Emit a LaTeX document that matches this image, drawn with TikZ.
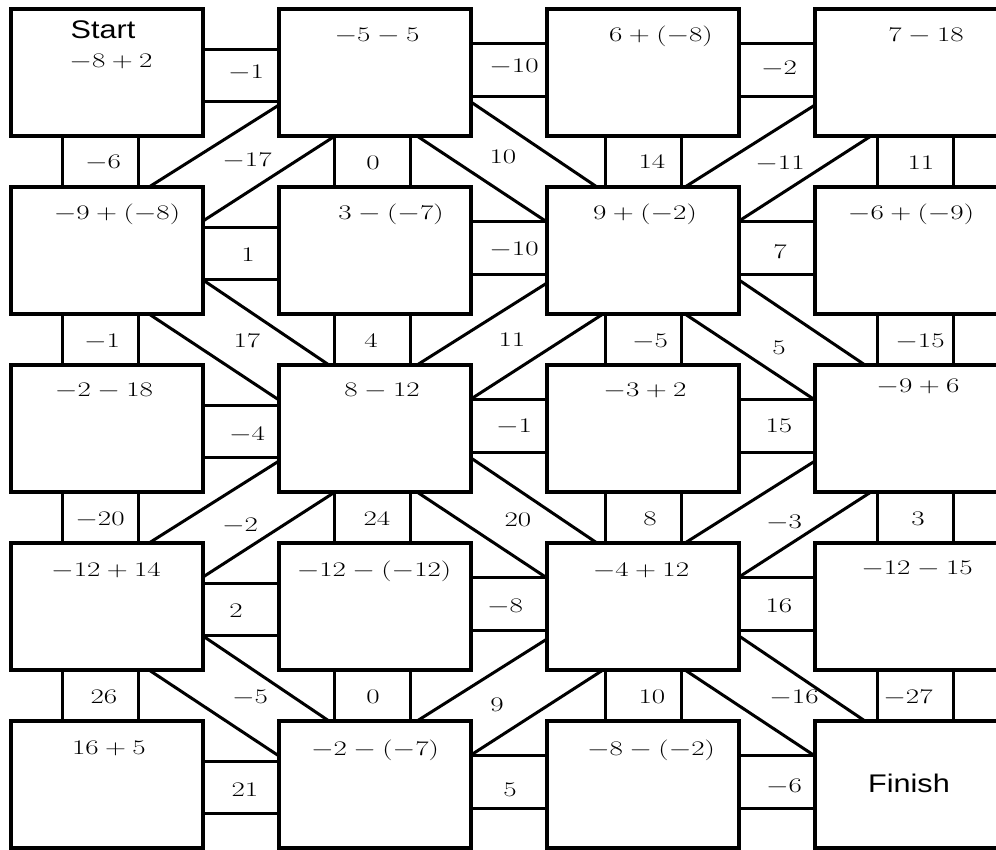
\documentclass[tikz,border=0pt]{standalone}
\usepackage{graphicx}
\usepackage{fontspec}
\newfontfamily\sansf{Liberation Sans}
\usetikzlibrary{calc}
\newcommand\mt[1]{\scalebox{1.4}[1]{$#1$}}
\newcommand\st[1]{\scalebox{1.2}[1]{#1}}
% horizontal connector: left box, right box, two offsets from top
\newcommand\hcon[4]{%
  \draw[conn] ($(#1.north east)+(0,#3)$) -- ($(#2.north west)+(0,#3)$);
  \draw[conn] ($(#1.north east)+(0,#4)$) -- ($(#2.north west)+(0,#4)$);}
% vertical connector: upper box, lower box, two offsets from left
\newcommand\vcon[4]{%
  \draw[conn] ($(#1.south west)+(#3,0)$) -- ($(#2.north west)+(#3,0)$);
  \draw[conn] ($(#1.south west)+(#4,0)$) -- ($(#2.north west)+(#4,0)$);}
% diagonal strip down-left
\newcommand\dlcon[2]{%
  \draw[conn] ($(#1.north west)+(0,96)$) -- ($(#2.north west)+(138,0)$);
  \draw[conn] ($(#1.south west)+(56,0)$) -- ($(#2.north east)+(0,34)$);}
% diagonal strip down-right
\newcommand\drcon[2]{%
  \draw[conn] ($(#1.north east)+(0,93)$) -- ($(#2.north west)+(50,0)$);
  \draw[conn] ($(#1.south west)+(138,0)$) -- ($(#2.north west)+(0,35)$);}
\begin{document}
\begin{tikzpicture}[x=1pt,y=-1pt,
  box/.style={draw=black, line width=3.2pt, minimum width=192pt, minimum height=127pt,
    anchor=north west, inner sep=0pt, outer sep=0pt},
  conn/.style={draw=black, line width=3pt},
  lbl/.style={inner sep=0pt, text height=13pt, text depth=0pt, font=\fontsize{20}{24}\selectfont},
  sflbl/.style={inner sep=0pt, text height=18.5pt, text depth=0pt, font=\sansf\fontsize{25.5}{30}\selectfont}]
\path[use as bounding box, clip] (0,0) rectangle (996,849);
\fill[white] (0,0) rectangle (996,849);

% boxes
\foreach \r in {1,...,5}{
  \foreach \c in {1,...,4}{
    \node[box] (b\r\c) at ({11+268*(\c-1)},{9+178*(\r-1)}) {};
  }
}

% horizontal connectors
\foreach \r in {1,...,5}{
  \hcon{b\r1}{b\r2}{40}{92}
  \hcon{b\r2}{b\r3}{34}{87}
  \hcon{b\r3}{b\r4}{34}{87}
}
% vertical connectors
\foreach \r/\n in {1/2,2/3,3/4,4/5}{
  \vcon{b\r1}{b\n1}{51}{127}
  \vcon{b\r2}{b\n2}{55}{131}
  \vcon{b\r3}{b\n3}{58}{134}
  \vcon{b\r4}{b\n4}{62}{138}
}
% diagonal strips
\dlcon{b12}{b21}
\drcon{b12}{b23}
\dlcon{b14}{b23}
\drcon{b21}{b32}
\dlcon{b23}{b32}
\drcon{b23}{b34}
\dlcon{b32}{b41}
\drcon{b32}{b43}
\dlcon{b34}{b43}
\drcon{b41}{b52}
\dlcon{b43}{b52}
\drcon{b43}{b54}

% box texts
\node[sflbl] (tstart) at (103,29) {\st{Start}};
\node[lbl] (t11) at (111,61) {\mt{-8+2}};
\node[lbl] (t12) at (377,35) {\mt{-5-5}};
\node[lbl] (t13) at (661,35) {\mt{6+(-8)}};
\node[lbl] (t14) at (926,35) {\mt{7-18}};
\node[lbl] (t21) at (117,213) {\mt{-9+(-8)}};
\node[lbl] (t22) at (391,213) {\mt{3-(-7)}};
\node[lbl] (t23) at (645,213) {\mt{9+(-2)}};
\node[lbl] (t24) at (911,213) {\mt{-6+(-9)}};
\node[lbl] (t31) at (104,390) {\mt{-2-18}};
\node[lbl] (t32) at (382,390) {\mt{8-12}};
\node[lbl] (t33) at (645,390) {\mt{-3+2}};
\node[lbl] (t34) at (918,386) {\mt{-9+6}};
\node[lbl] (t41) at (106,570) {\mt{-12+14}};
\node[lbl] (t42) at (374,570) {\mt{-12-(-12)}};
\node[lbl] (t43) at (641,570) {\mt{-4+12}};
\node[lbl] (t44) at (917,568) {\mt{-12-15}};
\node[lbl] (t51) at (109,748) {\mt{16+5}};
\node[lbl] (t52) at (375,749) {\mt{-2-(-7)}};
\node[lbl] (t53) at (651,749) {\mt{-8-(-2)}};
\node[sflbl] (tfinish) at (909,783) {\st{Finish}};

% horizontal connector labels
\node[lbl] (h11) at (246,72) {\mt{-1}};
\node[lbl] (h12) at (514,66) {\mt{-10}};
\node[lbl] (h13) at (779,68) {\mt{-2}};
\node[lbl] (h21) at (248,255) {\mt{1}};
\node[lbl] (h22) at (514,249) {\mt{-10}};
\node[lbl] (h23) at (780,252) {\mt{7}};
\node[lbl] (h31) at (247,434) {\mt{-4}};
\node[lbl] (h32) at (514,426) {\mt{-1}};
\node[lbl] (h33) at (779,426) {\mt{15}};
\node[lbl] (h41) at (236,611) {\mt{2}};
\node[lbl] (h42) at (505,606) {\mt{-8}};
\node[lbl] (h43) at (779,606) {\mt{16}};
\node[lbl] (h51) at (245,790) {\mt{21}};
\node[lbl] (h52) at (510,790) {\mt{5}};
\node[lbl] (h53) at (784,786) {\mt{-6}};

% vertical connector labels
\node[lbl] (v11) at (103,162) {\mt{-6}};
\node[lbl] (v12) at (373,163) {\mt{0}};
\node[lbl] (v13) at (652,162) {\mt{14}};
\node[lbl] (v14) at (921,163) {\mt{11}};
\node[lbl] (v21) at (102,341) {\mt{-1}};
\node[lbl] (v22) at (371,341) {\mt{4}};
\node[lbl] (v23) at (650,341) {\mt{-5}};
\node[lbl] (v24) at (920,341) {\mt{-15}};
\node[lbl] (v31) at (100,519) {\mt{-20}};
\node[lbl] (v32) at (377,519) {\mt{24}};
\node[lbl] (v33) at (650,519) {\mt{8}};
\node[lbl] (v34) at (918,519) {\mt{3}};
\node[lbl] (v41) at (104,697) {\mt{26}};
\node[lbl] (v42) at (373,697) {\mt{0}};
\node[lbl] (v43) at (652,697) {\mt{10}};
\node[lbl] (v44) at (908,697) {\mt{-27}};

% diagonal labels
\node[lbl] (d1) at (247,160) {\mt{-17}};
\node[lbl] (d2) at (503,157) {\mt{10}};
\node[lbl] (d3) at (780,163) {\mt{-11}};
\node[lbl] (d4) at (247,341) {\mt{17}};
\node[lbl] (d5) at (512,340) {\mt{11}};
\node[lbl] (d6) at (779,348) {\mt{5}};
\node[lbl] (d7) at (240,525) {\mt{-2}};
\node[lbl] (d8) at (518,520) {\mt{20}};
\node[lbl] (d9) at (784,522) {\mt{-3}};
\node[lbl] (d10) at (250,697) {\mt{-5}};
\node[lbl] (d11) at (497,705) {\mt{9}};
\node[lbl] (d12) at (794,697) {\mt{-16}};
\end{tikzpicture}
\end{document}
